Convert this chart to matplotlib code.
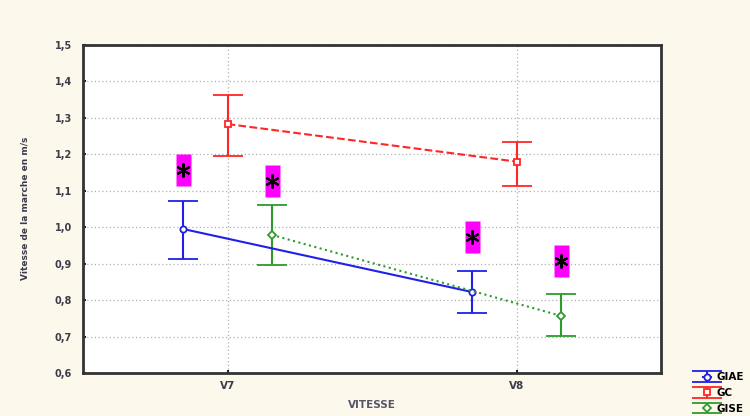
import numpy as np
import matplotlib
matplotlib.use("Agg")
import matplotlib.pyplot as plt

# data
categories = ["V7", "V8"]
groups = ["GIAE", "GC", "GISE"]
means = {
    "GIAE": [0.995, 0.822],
    "GC": [1.283, 1.180],
    "GISE": [0.979, 0.757],
}
lower = {
    "GIAE": [0.913, 0.765],
    "GC": [1.196, 1.113],
    "GISE": [0.896, 0.701],
}
upper = {
    "GIAE": [1.071, 0.881],
    "GC": [1.363, 1.233],
    "GISE": [1.061, 0.816],
}
# significance stars: (group, category index, y)
stars = [("GIAE", 0, 1.156), ("GISE", 0, 1.128), ("GIAE", 1, 0.973), ("GISE", 1, 0.907)]

colors = {"GIAE": "#2020e8", "GC": "#ff2626", "GISE": "#2e9a2e"}
styles = {"GIAE": "-", "GC": "--", "GISE": ":"}
markers = {"GIAE": "o", "GC": "s", "GISE": "D"}
offsets = {"GIAE": -0.153, "GC": 0.0, "GISE": 0.153}

bg = "#fdf8ec"
txt = "#3b3b4c"

fig = plt.figure(figsize=(7.5, 4.16), dpi=100, facecolor=bg)
ax = fig.add_axes([0.1107, 0.1034, 0.7707, 0.7885])
ax.set_facecolor("white")

x = np.arange(len(categories))
handles = []
for g in groups:
    m = np.array(means[g])
    err = [m - np.array(lower[g]), np.array(upper[g]) - m]
    h = ax.errorbar(x + offsets[g], m, yerr=err, color=colors[g], ls=styles[g],
                    lw=1.5, marker=markers[g], ms=4.5, mfc="white", mec=colors[g],
                    mew=1.3, capsize=11, capthick=1.5, elinewidth=1.5, zorder=3)
    handles.append(h)

# magenta boxes with asterisks
box = [(-0.48, -1), (0.48, -1), (0.48, 1), (-0.48, 1), (-0.48, -1)]
for g, i, yv in stars:
    ax.plot(x[i] + offsets[g], yv, marker=box, ms=22.5, color="#ff00ff", mec="none",
            ls="none", zorder=4)
    ax.plot(x[i] + offsets[g], yv, marker=(6, 2, 0), ms=10, color="black", mew=1.5,
            ls="none", zorder=5)

ax.set_xlim(-0.5, 1.5)
ax.set_ylim(0.6, 1.5)
yt = np.arange(0.6, 1.51, 0.1)
ax.set_yticks(yt)
ax.set_yticklabels([f"{v:.1f}".replace(".", ",") for v in yt], fontsize=7,
                   fontweight="bold", color=txt)
ax.set_xticks(x)
ax.set_xticklabels(categories, fontsize=7.5, fontweight="bold", color=txt)
ax.tick_params(direction="in", length=2, width=1.5, color="#222222")
ax.tick_params(axis="x", pad=6)
ax.tick_params(axis="y", pad=8)
ax.grid(True, ls=(0, (1, 2)), color="#b0b0b0", lw=0.9, zorder=0)
for s in ax.spines.values():
    s.set_linewidth(2)
    s.set_color("#333333")

fig.text(0.034, 0.5, "Vitesse de la marche en m/s", rotation=90, fontsize=6.5,
         fontweight="bold", color=txt, ha="center", va="center")
fig.text(0.496, 0.027, "VITESSE", fontsize=7.5, fontweight="bold", color="#555566",
         ha="center", va="center")

fig.legend(handles, groups, loc="lower left", bbox_to_anchor=(0.928, -0.012),
           frameon=False, prop={"weight": "bold", "size": 7.5},
           handlelength=0.7, handletextpad=0.6, labelspacing=0.55, borderpad=0.2)

fig.savefig("out.png", dpi=100, facecolor=bg)
